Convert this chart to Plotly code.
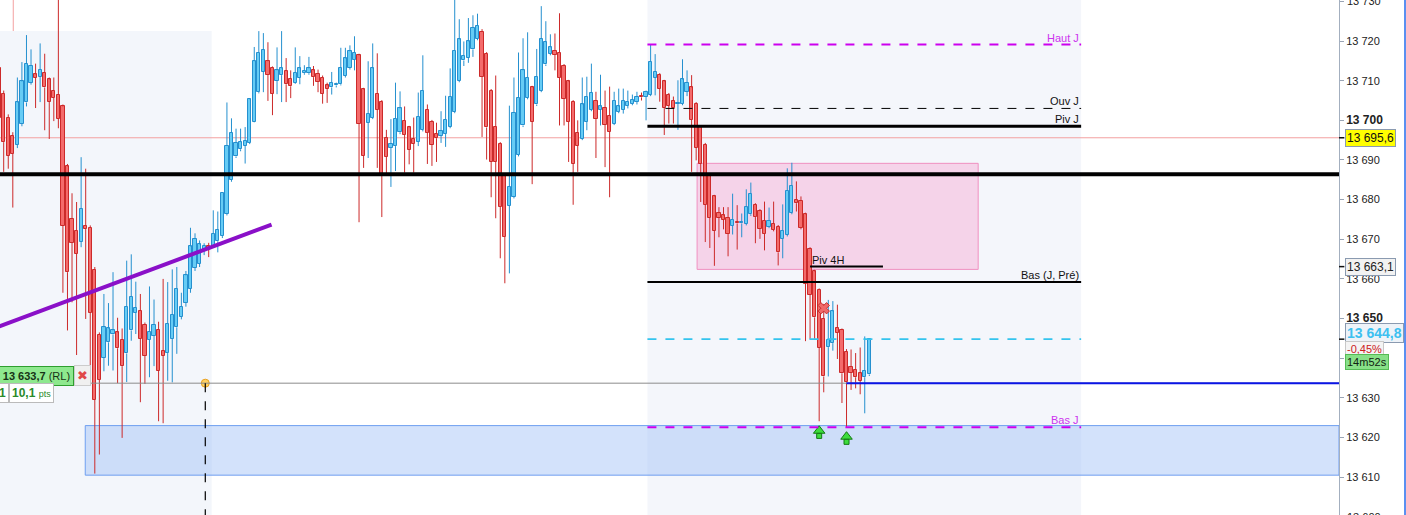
import plotly.graph_objects as go

# 15 min candles, oldest first (prices)
opens = [13713.1, 13706.7, 13700.7, 13696.0, 13693.9, 13699.2, 13704.5, 13709.5, 13711.6, 13711.0,
         13712.0, 13710.3, 13707.5, 13706.5, 13703.5, 13688.4, 13675.2, 13672.2, 13669.4, 13673.4,
         13672.9, 13662.3, 13645.9, 13640.1, 13644.0, 13646.0, 13646.5, 13644.6, 13641.2, 13647.0,
         13651.4, 13651.9, 13648.5, 13644.6, 13645.6, 13647.2, 13641.9, 13641.3, 13644.9, 13647.8,
         13650.4, 13654.0, 13657.5, 13662.8, 13663.8, 13667.2, 13668.2, 13668.2, 13669.5, 13670.8,
         13676.4, 13685.0, 13690.9, 13692.7, 13693.6, 13694.4, 13699.7, 13707.1, 13712.2, 13714.9,
         13713.2, 13710.0, 13711.4, 13712.4, 13710.5, 13709.5, 13710.8, 13711.9, 13711.9, 13712.6,
         13711.8, 13710.8, 13708.8, 13708.3, 13708.8, 13709.1, 13711.2, 13713.2, 13715.3, 13716.4,
         13707.8, 13699.4, 13700.7, 13706.7, 13704.7, 13695.6, 13693.1, 13693.5, 13697.0, 13699.9,
         13698.2, 13695.4, 13694.6, 13697.6, 13702.7, 13699.7, 13696.6, 13696.1, 13696.6, 13698.4,
         13702.2, 13710.0, 13715.1, 13715.8, 13717.9, 13720.6, 13722.4, 13716.8, 13707.5, 13698.4,
         13694.1, 13685.9, 13678.5, 13680.7, 13691.3, 13698.7, 13705.7, 13708.3, 13704.0, 13707.5,
         13714.1, 13716.8, 13717.6, 13717.1, 13713.8, 13709.8, 13704.7, 13696.9, 13695.4, 13699.7,
         13702.7, 13705.0, 13702.7, 13703.2, 13701.2, 13699.2, 13702.2, 13702.7, 13703.7, 13704.2,
         13704.7, 13706.0, 13705.9, 13706.5, 13710.8, 13711.5, 13709.8, 13706.5, 13705.0, 13704.1,
         13704.2, 13707.2, 13708.3, 13704.2, 13698.2, 13693.9, 13686.1, 13680.8, 13676.6, 13676.0,
         13675.4, 13673.4, 13674.3, 13674.0, 13673.9, 13676.3, 13678.7, 13677.2, 13674.7, 13673.2,
         13673.9, 13673.2, 13670.1, 13671.1, 13676.7, 13680.0, 13679.7, 13676.3, 13667.6, 13661.9,
         13657.2, 13649.9, 13642.8, 13643.8, 13647.7, 13647.1, 13641.6, 13637.8, 13637.1, 13636.2,
         13635.2, 13635.9]
highs = [13715.0, 13707.5, 13701.5, 13697.0, 13710.8, 13714.7, 13721.5, 13717.9, 13714.3, 13719.4,
         13716.8, 13710.8, 13710.8, 13732.0, 13704.0, 13689.0, 13681.6, 13679.4, 13690.7, 13687.8,
         13673.5, 13663.0, 13646.5, 13656.2, 13653.9, 13661.7, 13650.2, 13647.5, 13664.6, 13666.2,
         13659.3, 13656.2, 13649.0, 13658.1, 13654.8, 13649.2, 13660.0, 13659.2, 13662.4, 13663.0,
         13656.5, 13662.0, 13672.9, 13671.5, 13669.7, 13669.0, 13669.1, 13677.3, 13677.0, 13681.9,
         13704.5, 13700.5, 13697.9, 13697.9, 13698.3, 13705.6, 13718.5, 13722.5, 13722.0, 13719.7,
         13713.6, 13718.4, 13722.5, 13715.7, 13712.6, 13718.4, 13716.2, 13713.9, 13716.0, 13713.7,
         13712.8, 13711.3, 13709.5, 13712.2, 13709.5, 13718.3, 13718.3, 13718.9, 13721.2, 13716.8,
         13708.2, 13714.9, 13719.4, 13716.9, 13705.1, 13697.6, 13700.3, 13709.5, 13707.3, 13703.5,
         13698.6, 13700.7, 13707.0, 13716.4, 13704.0, 13700.1, 13699.4, 13702.3, 13706.2, 13713.1,
         13731.0, 13725.5, 13719.9, 13725.8, 13726.5, 13726.9, 13723.0, 13717.2, 13707.9, 13711.3,
         13694.5, 13686.3, 13703.7, 13710.8, 13717.1, 13720.7, 13722.2, 13708.7, 13718.0, 13728.8,
         13725.0, 13721.7, 13721.9, 13727.0, 13714.2, 13710.2, 13705.1, 13700.0, 13710.8, 13711.0,
         13714.3, 13707.2, 13711.5, 13707.5, 13708.5, 13707.2, 13708.0, 13708.0, 13707.5, 13706.5,
         13707.2, 13707.0, 13707.5, 13719.1, 13716.7, 13711.9, 13710.2, 13706.9, 13706.0, 13710.1,
         13715.4, 13712.6, 13711.4, 13704.6, 13698.6, 13694.3, 13686.5, 13681.2, 13678.1, 13678.1,
         13678.1, 13681.5, 13678.6, 13676.5, 13682.6, 13684.3, 13679.1, 13677.6, 13679.5, 13678.0,
         13679.5, 13673.6, 13678.8, 13687.9, 13689.3, 13684.6, 13680.8, 13676.7, 13668.0, 13662.3,
         13657.6, 13653.7, 13654.7, 13654.4, 13653.5, 13647.5, 13642.3, 13642.2, 13641.3, 13642.7,
         13645.5, 13644.8]
lows = [13699.0, 13687.0, 13687.8, 13678.0, 13693.0, 13698.5, 13703.5, 13709.0, 13703.1, 13704.6,
        13697.5, 13695.3, 13699.8, 13698.0, 13656.5, 13647.0, 13654.1, 13640.8, 13668.0, 13649.9,
        13633.5, 13610.9, 13615.7, 13636.7, 13638.1, 13636.9, 13633.7, 13619.9, 13634.0, 13644.4,
        13646.1, 13628.9, 13633.5, 13635.2, 13638.0, 13624.1, 13623.6, 13634.3, 13633.9, 13641.1,
        13649.8, 13653.0, 13656.5, 13662.0, 13663.0, 13666.0, 13665.5, 13667.8, 13666.7, 13670.3,
        13676.0, 13684.5, 13690.5, 13692.2, 13689.1, 13694.0, 13699.5, 13706.8, 13707.1, 13704.9,
        13701.3, 13706.6, 13704.6, 13704.6, 13705.6, 13709.2, 13709.1, 13711.5, 13711.5, 13708.7,
        13707.1, 13704.2, 13704.4, 13706.5, 13708.3, 13708.8, 13710.8, 13712.8, 13712.6, 13674.3,
        13688.0, 13690.5, 13700.3, 13688.0, 13675.6, 13686.0, 13683.2, 13687.2, 13696.5, 13686.8,
        13688.9, 13686.8, 13693.5, 13697.2, 13689.0, 13688.5, 13689.5, 13694.3, 13693.3, 13698.0,
        13701.8, 13709.6, 13713.7, 13714.5, 13716.0, 13720.2, 13695.8, 13690.1, 13680.6, 13675.3,
        13665.2, 13658.9, 13661.4, 13680.3, 13690.9, 13698.3, 13705.3, 13683.9, 13703.6, 13707.1,
        13713.7, 13716.4, 13712.6, 13698.7, 13698.7, 13689.5, 13678.7, 13687.0, 13695.0, 13697.5,
        13702.3, 13690.5, 13698.7, 13688.2, 13680.6, 13698.8, 13701.8, 13701.7, 13703.0, 13703.8,
        13704.0, 13705.0, 13700.0, 13706.1, 13706.3, 13704.7, 13696.3, 13699.2, 13699.2, 13697.6,
        13703.8, 13706.1, 13687.0, 13689.9, 13679.4, 13669.3, 13667.8, 13663.3, 13670.5, 13672.5,
        13665.7, 13671.2, 13667.4, 13670.5, 13673.5, 13675.9, 13669.0, 13670.1, 13667.2, 13672.8,
        13672.0, 13663.4, 13665.2, 13670.7, 13676.3, 13677.0, 13672.5, 13644.3, 13644.9, 13644.9,
        13624.1, 13631.4, 13635.4, 13641.9, 13639.8, 13628.7, 13622.6, 13632.0, 13632.4, 13630.9,
        13626.1, 13635.5]
closes = [13700.7, 13694.5, 13691.0, 13691.6, 13704.5, 13709.8, 13714.3, 13713.8, 13710.8, 13712.8,
          13708.3, 13704.7, 13705.7, 13700.4, 13673.4, 13661.7, 13669.1, 13666.3, 13677.7, 13672.6,
          13651.4, 13629.5, 13634.5, 13647.8, 13647.5, 13647.0, 13642.5, 13638.0, 13653.0, 13655.5,
          13652.7, 13644.9, 13640.6, 13646.7, 13648.5, 13636.8, 13640.6, 13648.6, 13650.9, 13657.5,
          13653.0, 13660.9, 13668.2, 13670.1, 13668.7, 13668.4, 13667.7, 13671.4, 13672.4, 13681.7,
          13693.6, 13696.9, 13694.4, 13694.5, 13694.9, 13705.3, 13714.9, 13717.1, 13717.7, 13711.5,
          13706.7, 13712.6, 13713.1, 13709.1, 13708.6, 13712.0, 13713.1, 13712.4, 13713.1, 13710.9,
          13709.7, 13706.7, 13708.0, 13709.5, 13709.0, 13713.3, 13715.6, 13717.4, 13717.1, 13699.2,
          13691.1, 13701.7, 13713.1, 13702.7, 13686.5, 13690.8, 13694.1, 13700.4, 13703.0, 13696.4,
          13692.6, 13694.1, 13700.9, 13707.5, 13696.9, 13693.9, 13695.5, 13697.4, 13700.2, 13706.0,
          13717.6, 13720.4, 13716.3, 13719.9, 13723.4, 13723.9, 13711.0, 13698.2, 13689.6, 13689.6,
          13678.2, 13670.6, 13683.3, 13701.9, 13705.7, 13712.6, 13710.8, 13699.7, 13711.0, 13720.6,
          13719.7, 13718.4, 13716.6, 13710.7, 13705.5, 13699.7, 13689.1, 13693.6, 13704.0, 13706.0,
          13707.0, 13700.4, 13703.5, 13698.9, 13697.1, 13705.0, 13703.5, 13705.0, 13704.7, 13705.2,
          13706.0, 13705.8, 13707.2, 13714.8, 13712.3, 13708.0, 13703.1, 13703.7, 13703.1, 13704.3,
          13710.3, 13709.5, 13700.2, 13693.1, 13689.1, 13678.7, 13675.4, 13672.1, 13675.4, 13674.9,
          13671.4, 13674.9, 13674.0, 13674.2, 13678.1, 13681.5, 13675.6, 13672.7, 13671.4, 13674.7,
          13672.4, 13666.7, 13672.1, 13682.2, 13683.5, 13679.1, 13672.9, 13658.8, 13656.0, 13650.3,
          13642.7, 13635.4, 13644.6, 13651.8, 13646.4, 13636.2, 13633.9, 13636.3, 13635.2, 13634.3,
          13636.8, 13644.8]

# price levels drawn on the chart
haut_j = 13719.1
ouv_j = 13703.0
piv_j = 13698.5
bas_j_pre = 13659.2
bas_j = 13622.6
last_price = 13644.8
piv_4h = 13663.1
big_pivot = 13686.4
order_price = 13633.7
cursor_price = 13695.6
change_pct = "-0,45%"
countdown = "14m52s"

# zones (bar index span, price span)
support_zone = (18.9, 13610.5, 13623.0)
pink_zone = (153.2, 214.9, 13662.4, 13689.15)
trend_x = [0.0, 59.8]
trend_y = [13648.0, 13673.7]
session_start, session_end = 142.3, 237.5
piv4h_span = (178.0, 194.0)
order_start = 186.0
entry_bar = 45.25
cursor_bar = 3.1
exit_mark = (181, 13652.6)
buy_signals = [180, 186]
buy_signal_y = [13621.7, 13620.2]

tick_vals = [13600, 13610, 13620, 13630, 13640, 13650, 13660, 13670, 13680, 13690, 13700, 13710, 13720, 13730]
tick_text = ["13 600", "13 610", "13 620", "13 630", "", "<b style='font-size:12px'>13 650</b>",
             "13 660", "13 670", "13 680", "13 690", "<b style='font-size:12px'>13 700</b>",
             "13 710", "13 720", "13 730"]

x_range = [0.19, 294.1]
y_range = [13600.45, 13730.35]
FONT = "Liberation Sans, Arial, sans-serif"

UP_FILL, UP_EDGE = "#66ccf5", "#2590cf"
DN_FILL, DN_EDGE = "#f46b6b", "#cc2a2a"

fig = go.Figure()

# wicks, split above / below the body so they never cross the fill
for up in (True, False):
    wx, wy = [], []
    for i, (o, h, l, c) in enumerate(zip(opens, highs, lows, closes)):
        if (c >= o) != up:
            continue
        top, bot = max(o, c), min(o, c)
        wx += [i, i, None, i, i, None]
        wy += [h, top, None, bot, l, None]
    fig.add_trace(go.Scatter(x=wx, y=wy, mode="lines", hoverinfo="skip",
                             line=dict(color=UP_EDGE if up else DN_EDGE, width=1)))

# bodies
for up in (True, False):
    idx = [i for i in range(len(opens)) if (closes[i] >= opens[i]) == up]
    fig.add_trace(go.Bar(
        x=idx,
        y=[max(abs(closes[i] - opens[i]), 0.25) for i in idx],
        base=[min(opens[i], closes[i]) for i in idx],
        width=0.7,
        marker=dict(color=UP_FILL if up else DN_FILL,
                    line=dict(color=UP_EDGE if up else DN_EDGE, width=1)),
    ))

# markers: exit cross, buy arrows, entry point
fig.add_trace(go.Scatter(x=[exit_mark[0]], y=[exit_mark[1]], mode="markers",
                         marker=dict(symbol="x", size=10, color="#f06a6a",
                                     line=dict(color="#c83030", width=1))))
fig.add_trace(go.Scatter(x=buy_signals, y=buy_signal_y, mode="markers",
                         marker=dict(symbol="triangle-up", size=10, color="#3ddc3d",
                                     line=dict(color="#137a13", width=1))))
fig.add_trace(go.Scatter(x=buy_signals, y=[v - 1.3 for v in buy_signal_y], mode="markers",
                         marker=dict(symbol="square", size=5, color="#3ddc3d",
                                     line=dict(color="#137a13", width=1))))
fig.add_trace(go.Scatter(x=[entry_bar], y=[order_price], mode="markers",
                         marker=dict(size=8, color="#ffd060", line=dict(color="#e8a020", width=1))))

shapes = []


def hline(y, x0, x1, color, width, dash="solid", layer="above"):
    shapes.append(dict(type="line", xref="x", yref="y", x0=x0, x1=x1, y0=y, y1=y,
                       line=dict(color=color, width=width, dash=dash), layer=layer))


# session backgrounds
shapes.append(dict(type="rect", xref="x", yref="y", x0=x_range[0], x1=46.65, y0=y_range[0], y1=13722.5,
                   fillcolor="#f3f6fb", line=dict(width=0), layer="below"))
shapes.append(dict(type="rect", xref="x", yref="paper", x0=session_start, x1=session_end, y0=0, y1=1,
                   fillcolor="#f4f6fb", line=dict(width=0), layer="below"))
# zones
shapes.append(dict(type="rect", xref="x", yref="y", x0=support_zone[0], x1=x_range[1],
                   y0=support_zone[1], y1=support_zone[2],
                   fillcolor="rgba(150,185,245,0.42)", line=dict(color="#6f9ff0", width=1), layer="below"))
shapes.append(dict(type="rect", xref="x", yref="y", x0=pink_zone[0], x1=pink_zone[1],
                   y0=pink_zone[2], y1=pink_zone[3],
                   fillcolor="rgba(246,175,215,0.5)", line=dict(color="#f090c0", width=1), layer="below"))
# cursor cross
shapes.append(dict(type="line", xref="x", yref="paper", x0=cursor_bar, x1=cursor_bar, y0=0, y1=1,
                   line=dict(color="#f3a0a0", width=1), layer="below"))
hline(cursor_price, x_range[0], x_range[1], "#f3a0a0", 1, layer="below")

# levels
hline(big_pivot, x_range[0], x_range[1], "#000000", 4)
hline(haut_j, session_start, session_end, "#cc00ee", 2, "dash")
hline(ouv_j, session_start, session_end, "#000000", 1, "dash")
hline(piv_j, session_start, session_end, "#000000", 3)
hline(bas_j_pre, session_start, session_end, "#000000", 2)
hline(last_price, session_start, session_end, "#33c4ee", 1.6, "dash")
hline(bas_j, session_start, session_end, "#cc00ee", 2, "dash")
hline(piv_4h, piv4h_span[0], piv4h_span[1], "#000000", 2)
hline(order_price, x_range[0], x_range[1], "#8c8c8c", 1)
hline(order_price, order_start, x_range[1], "#0a14e6", 2)
shapes.append(dict(type="line", xref="x", yref="y", x0=entry_bar, x1=entry_bar, y0=order_price, y1=y_range[0],
                   line=dict(color="#000000", width=1.2, dash="dash")))
shapes.append(dict(type="line", xref="x", yref="y", x0=trend_x[0], x1=trend_x[1], y0=trend_y[0], y1=trend_y[1],
                   line=dict(color="#8a10c8", width=4)))
# right window border and axis marks
shapes.append(dict(type="line", xref="paper", yref="paper", x0=1.0493, x1=1.0493, y0=0, y1=1,
                   line=dict(color="#5a8ff0", width=2)))
for v in (cursor_price, piv_4h, last_price):
    shapes.append(dict(type="line", xref="paper", yref="y", x0=1.0, x1=1.004, y0=v, y1=v,
                       line=dict(color="#111111", width=1.5)))

ann = []


def level_label(text, y, color="#111111"):
    ann.append(dict(x=session_end, y=y, xref="x", yref="y", text=text, showarrow=False,
                    xanchor="right", yanchor="bottom", yshift=-1,
                    font=dict(family=FONT, size=11, color=color)))


level_label("Haut J", haut_j, "#cc33ee")
level_label("Ouv J", ouv_j)
level_label("Piv J", piv_j)
level_label("Bas (J, Pré)", bas_j_pre)
level_label("Bas J", bas_j, "#cc33ee")
ann.append(dict(x=piv4h_span[0], y=piv_4h, xref="x", yref="y", text="Piv 4H", showarrow=False,
                xanchor="left", yanchor="bottom", yshift=-1, font=dict(family=FONT, size=11, color="#111111")))

# edge tick labels that the axis drops because they are half outside the frame
for v, t in ((tick_vals[-1], tick_text[-1]), (tick_vals[0], tick_text[0])):
    ann.append(dict(x=1.0052, y=(v - y_range[0]) / (y_range[1] - y_range[0]), xref="paper", yref="paper",
                    text=t, showarrow=False, xanchor="left", yanchor="middle", borderpad=0,
                    font=dict(family=FONT, size=11, color="#222222")))


def axis_box(text, y, bg, fg, size=11, border="#8a9ab0"):
    ann.append(dict(x=1.0045, y=y, xref="paper", yref="y", text=text, showarrow=False,
                    xanchor="left", yanchor="middle", bgcolor=bg, bordercolor=border, borderwidth=1,
                    borderpad=1, font=dict(family=FONT, size=size, color=fg)))


axis_box("13 695,6", cursor_price, "#ffff00", "#111111", 12)
axis_box("13 663,1", piv_4h, "#f2f2f2", "#222222", 12)
axis_box("<b>13 644,8</b>", 13646.3, "#eef3f8", "#3cc0f0", 14)
axis_box(change_pct, 13642.4, "#f4f4f4", "#cc2020", 11, "#c8c8c8")
axis_box(countdown, 13639.0, "#88e088", "#112211", 11, "#55bb55")

# open position tags on the left
ann.append(dict(x=0.0553, y=13635.6, xref="paper", yref="y", text="<b>@ 13 633,7</b> (RL)",
                showarrow=False, xanchor="right", yanchor="middle", bgcolor="#8ee88e",
                bordercolor="#2e9e2e", borderwidth=1, borderpad=3,
                font=dict(family=FONT, size=11, color="#163316")))
ann.append(dict(x=0.0553, y=13635.6, xref="paper", yref="y", text="<b>✖</b>", showarrow=False,
                xanchor="left", yanchor="middle", bgcolor="#f0f0f0", bordercolor="#cccccc",
                borderwidth=1, borderpad=2, font=dict(family="DejaVu Sans", size=13, color="#e04848")))
ann.append(dict(x=0.007, y=13631.2, xref="paper", yref="y", text="<b>1</b>", showarrow=False,
                xanchor="right", yanchor="middle", bgcolor="#ffffff", bordercolor="#bbbbbb",
                borderwidth=1, borderpad=2, font=dict(family=FONT, size=12, color="#2a8a2a")))
ann.append(dict(x=0.007, y=13631.2, xref="paper", yref="y",
                text="<b>10,1</b> <span style='font-size:9px'>pts</span>", showarrow=False,
                xanchor="left", yanchor="middle", bgcolor="#ffffff", bordercolor="#bbbbbb",
                borderwidth=1, borderpad=2, font=dict(family=FONT, size=12, color="#2a8a2a")))

fig.update_layout(
    width=1406, height=515,
    margin=dict(l=0, r=67, t=0, b=0),
    paper_bgcolor="#ffffff", plot_bgcolor="#ffffff",
    barmode="overlay", bargap=0, showlegend=False,
    shapes=shapes, annotations=ann,
    font=dict(family=FONT, size=11, color="#222222"),
)
fig.update_xaxes(range=x_range, visible=False, showgrid=False, zeroline=False)
fig.update_yaxes(range=y_range, side="right", tickvals=tick_vals, ticktext=tick_text,
                 ticks="outside", ticklen=4, tickcolor="#9aa5b5", showline=True, linecolor="#a3afbf",
                 showgrid=False, zeroline=False, automargin=False,
                 tickfont=dict(family=FONT, size=11, color="#222222"))

# the page's default 8px body margin would shift the chart, drop it
fig.write_html("out.html", config={"displayModeBar": False},
               post_script="document.body.style.margin='0';document.body.style.overflow='hidden';")
